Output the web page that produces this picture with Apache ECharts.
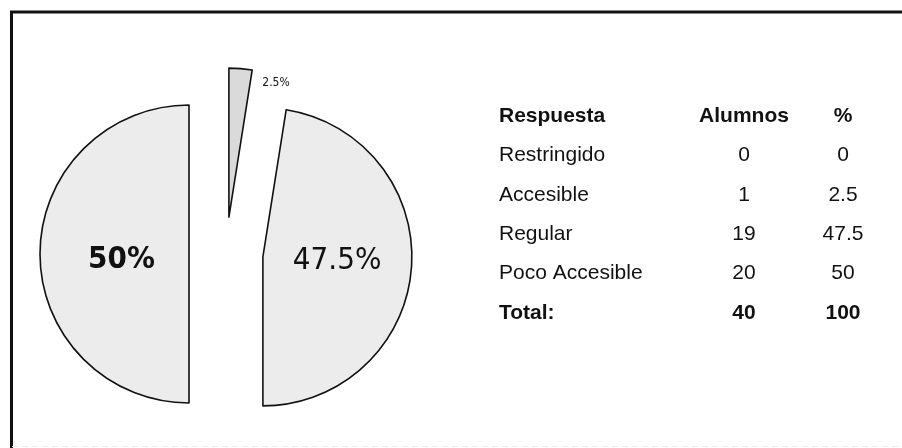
<!DOCTYPE html>
<html>
<head>
<meta charset="utf-8">
<script src="https://cdn.jsdelivr.net/npm/echarts@6/dist/echarts.min.js"></script>
<style>
html,body{margin:0;padding:0;background:#fff;}
#chart{width:902px;height:448px;}
</style>
</head>
<body>
<div id="chart"></div>
<script>
// ---- data ----
var headers = ['Respuesta', 'Alumnos', '%'];
var categories = ['Restringido', 'Accesible', 'Regular', 'Poco Accesible'];
var alumnos = [0, 1, 19, 20];
var percents = [0, 2.5, 47.5, 50];
var totalLabel = 'Total:';
var totalAlumnos = 40;
var totalPercent = 100;

// ---- build chart ----
var chart = echarts.init(document.getElementById('chart'), null, {renderer: 'canvas'});

var narrow = '"DejaVu Sans Condensed", "Liberation Sans Narrow", "Arial Narrow", "Liberation Sans", Arial, sans-serif';
var sans = '"Liberation Sans", Arial, sans-serif';

var labelStyles = {
  'Accesible': {fontSize: 12, fontWeight: 'normal', dx: 41, dy: -57},
  'Regular': {fontSize: 31, fontWeight: 'normal', dx: -3, dy: -2},
  'Poco Accesible': {fontSize: 31, fontWeight: 'bold', dx: 10, dy: 6}
};
var fills = {'Accesible': '#dadada', 'Regular': '#ececec', 'Poco Accesible': '#ececec'};

var pieData = [];
categories.forEach(function (c, i) {
  if (alumnos[i] <= 0) return;
  var ls = labelStyles[c];
  pieData.push({
    name: c,
    value: alumnos[i],
    pct: percents[i],
    selected: true,
    itemStyle: {color: fills[c]},
    label: {
      show: true,
      position: 'inside',
      fontSize: ls.fontSize,
      fontWeight: ls.fontWeight
    }
  });
});

// table graphics
var graphics = [];
// frame
graphics.push({type: 'line', shape: {x1: 10, y1: 12, x2: 902, y2: 12}, style: {stroke: '#111', lineWidth: 3}});
graphics.push({type: 'line', shape: {x1: 11.5, y1: 11, x2: 11.5, y2: 448}, style: {stroke: '#111', lineWidth: 3}});
graphics.push({type: 'line', shape: {x1: 12, y1: 446.5, x2: 902, y2: 446.5}, style: {stroke: '#ececec', lineWidth: 1, lineDash: [6, 4]}});

var colX = [499, 744, 843];
var rowY0 = 116, rowStep = 39.4;
function cell(text, col, row, bold) {
  graphics.push({
    type: 'text',
    x: colX[col],
    y: rowY0 + row * rowStep,
    style: {
      text: String(text),
      fill: '#111',
      font: (bold ? 'bold ' : '') + '21px ' + sans,
      textAlign: col === 0 ? 'left' : 'center',
      textVerticalAlign: 'middle'
    }
  });
}
headers.forEach(function (h, j) { cell(h, j, 0, true); });
categories.forEach(function (c, i) {
  cell(c, 0, i + 1, false);
  cell(alumnos[i], 1, i + 1, false);
  cell(percents[i], 2, i + 1, false);
});
var tr = categories.length + 1;
cell(totalLabel, 0, tr, true);
cell(totalAlumnos, 1, tr, true);
cell(totalPercent, 2, tr, true);

chart.setOption({
  animation: false,
  backgroundColor: '#ffffff',
  graphic: graphics,
  series: [{
    type: 'pie',
    center: [226, 254],
    radius: [0, 149],
    startAngle: 90,
    clockwise: true,
    selectedMode: 'multiple',
    selectedOffset: 37,
    avoidLabelOverlap: false,
    silent: true,
    emphasis: {disabled: true, scale: false},
    itemStyle: {borderColor: '#111', borderWidth: 1.6},
    label: {
      show: true,
      color: '#111',
      fontFamily: narrow,
      textBorderWidth: 0,
      formatter: function (p) { return p.data.pct + '%'; }
    },
    labelLine: {show: false},
    labelLayout: function (params) {
      var ls = labelStyles[pieData[params.dataIndex].name];
      return {dx: ls.dx, dy: ls.dy};
    },
    data: pieData
  }]
});
</script>
</body>
</html>
